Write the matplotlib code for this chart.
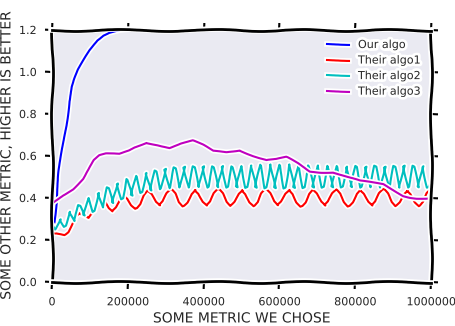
import matplotlib
matplotlib.use("Agg")
import matplotlib.pyplot as plt

# ---------------- data ----------------
blue_x = [5000, 9000, 13000, 18000, 24000, 30000, 37000, 44000, 52000, 60000,
          70000, 80000, 90000, 100000, 110000, 120000, 135000, 150000, 165000,
          180000, 250000, 400000, 600000, 800000, 1000000]
blue_y = [0.26, 0.36, 0.45, 0.52, 0.58, 0.65, 0.74, 0.86, 0.93, 0.97,
          1.01, 1.04, 1.07, 1.10, 1.125, 1.15, 1.175, 1.19, 1.198,
          1.205, 1.21, 1.21, 1.21, 1.21, 1.21]

red_x = [0, 12000, 24000, 33000, 42000, 52000, 62000, 72000, 84000, 96450,
         106833, 117217, 127600, 137983, 148367, 158750, 169133, 179517, 189900,
         200283, 210667, 221050, 231433, 241817, 252200, 262583, 272967, 283350,
         293733, 304117, 314500, 324883, 335267, 345650, 356033, 366417, 376800,
         387183, 397567, 407950, 418333, 428717, 439100, 449483, 459867, 470250,
         480633, 491017, 501400, 511783, 522167, 532550, 542933, 553317, 563700,
         574083, 584467, 594850, 605233, 615617, 626000, 636383, 646767, 657150,
         667533, 677917, 688300, 698683, 709067, 719450, 729833, 740217, 750600,
         760983, 771367, 781750, 792133, 802517, 812900, 823283, 833667, 844050,
         854433, 864817, 875200, 885583, 895967, 906350, 916733, 927117, 937500,
         947883, 958267, 968650, 979033, 989417, 999800]
red_y = [0.232, 0.232, 0.229, 0.226, 0.240, 0.280, 0.315, 0.330, 0.318, 0.305,
         0.3275, 0.3725, 0.395, 0.380, 0.350, 0.335, 0.355, 0.395, 0.415,
         0.399, 0.368, 0.352, 0.373, 0.414, 0.435, 0.417, 0.380, 0.362,
         0.382, 0.421, 0.440, 0.421, 0.381, 0.362,
         0.381, 0.421, 0.441, 0.422, 0.382, 0.363,
         0.382, 0.421, 0.440, 0.420, 0.381, 0.362,
         0.382, 0.422, 0.441, 0.421, 0.381, 0.362,
         0.381, 0.421, 0.440, 0.421, 0.382, 0.363,
         0.382, 0.421, 0.440, 0.420, 0.381, 0.362,
         0.381, 0.421, 0.441, 0.421, 0.381, 0.361,
         0.381, 0.421, 0.440, 0.421, 0.382, 0.362,
         0.382, 0.422, 0.441, 0.421, 0.381, 0.362,
         0.381, 0.421, 0.440, 0.420, 0.381, 0.362,
         0.381, 0.421, 0.440, 0.421, 0.381, 0.362,
         0.382, 0.421, 0.440]

cyan_x = [1600, 8400, 21000, 33600, 46200, 58800, 71400, 84000, 96600, 109200,
          121800, 134400, 147000, 159600, 172200, 184800, 197400, 210000, 222600,
          235200, 247800, 260400, 273000, 285600, 298200, 310800, 323400, 336000,
          348600, 361200, 373800, 386400, 399000, 411600, 424200, 436800, 449400,
          462000, 474600, 487200, 499800, 512400, 525000, 537600, 550200, 562800,
          575400, 588000, 600600, 613200, 625800, 638400, 651000, 663600, 676200,
          688800, 701400, 714000, 726600, 739200, 751800, 764400, 777000, 789600,
          802200, 814800, 827400, 840000, 852600, 865200, 877800, 890400, 903000,
          915600, 928200, 940800, 953400, 966000, 978600, 991200, 1000000]
cyan_y = [0.270, 0.250, 0.300, 0.265, 0.335, 0.290, 0.365, 0.315, 0.400, 0.335,
          0.425, 0.355, 0.450, 0.375, 0.470, 0.395, 0.490, 0.410, 0.505,
          0.425, 0.520, 0.435, 0.530, 0.442, 0.540, 0.447, 0.545, 0.450,
          0.550, 0.450, 0.550, 0.452, 0.552, 0.450, 0.550, 0.451, 0.553,
          0.450, 0.550, 0.450, 0.552, 0.449, 0.555, 0.448, 0.558, 0.447,
          0.560, 0.446, 0.558, 0.446, 0.560, 0.447, 0.557, 0.448, 0.555,
          0.449, 0.555, 0.450, 0.553, 0.450, 0.552, 0.451, 0.550, 0.451,
          0.552, 0.450, 0.550, 0.451, 0.553, 0.450, 0.550, 0.450, 0.552,
          0.449, 0.555, 0.450, 0.553, 0.450, 0.552, 0.450, 0.480]

mag_x = [6200, 28200, 54600, 81000, 96000, 111900, 126000, 142700, 178000,
         204000, 217600, 248500, 279300, 310100, 341000, 371800, 398200, 424700,
         459900, 495200, 530400, 565600, 592100, 618500, 649300, 680200, 711000,
         741900, 777100, 812300, 847600, 874000, 900400, 926900, 944500, 962100,
         995000]
mag_y = [0.382, 0.413, 0.445, 0.492, 0.535, 0.579, 0.600, 0.608, 0.608,
         0.627, 0.642, 0.666, 0.655, 0.639, 0.658, 0.671, 0.650, 0.622,
         0.619, 0.630, 0.603, 0.580, 0.583, 0.592, 0.563, 0.527, 0.524,
         0.525, 0.503, 0.480, 0.470, 0.463, 0.437, 0.412, 0.405, 0.401,
         0.400]

series_labels = ["Our algo", "Their algo1", "Their algo2", "Their algo3"]
x_ticks = [0, 200000, 400000, 600000, 800000, 1000000]
x_tick_labels = ["0", "200000", "400000", "600000", "800000", "1000000"]
y_ticks = [0.0, 0.2, 0.4, 0.6, 0.8, 1.0, 1.2]
y_tick_labels = ["0.0", "0.2", "0.4", "0.6", "0.8", "1.0", "1.2"]
x_label = "SOME METRIC WE CHOSE"
y_label = "SOME OTHER METRIC, HIGHER IS BETTER"

TEXT = "#262626"

with plt.xkcd():
    plt.rcParams["font.family"] = ["DejaVu Sans"]
    fig = plt.figure(figsize=(4.56, 3.26), dpi=100)
    ax = fig.add_axes([52 / 456, 44 / 326, 379 / 456, 252 / 326])
    ax.set_facecolor("#EAEAF2")
    for s in ax.spines.values():
        s.set_linewidth(2)

    ax.plot(blue_x, blue_y, color="b", lw=1.5, label=series_labels[0])
    ax.plot(red_x, red_y, color="r", lw=1.5, label=series_labels[1])
    ax.plot(cyan_x, cyan_y, color="c", lw=1.5, label=series_labels[2])
    ax.plot(mag_x, mag_y, color="m", lw=1.5, label=series_labels[3])

    ax.set_xlim(0, 1000000)
    ax.set_ylim(0, 1.2)
    ax.set_xticks(x_ticks)
    ax.set_xticklabels(x_tick_labels)
    ax.set_yticks(y_ticks)
    ax.set_yticklabels(y_tick_labels)
    ax.tick_params(direction="out", length=5, width=1.5, top=True, right=True,
                   labelsize=8, labelcolor=TEXT, pad=6, color="black")

    ax.set_xlabel(x_label, fontsize=10, color=TEXT, labelpad=3)
    ax.set_ylabel(y_label, fontsize=10, color=TEXT, labelpad=4)

    ax.legend(loc="upper right", frameon=False, fontsize=8, labelcolor=TEXT)

    fig.savefig("out.png", dpi=100)
